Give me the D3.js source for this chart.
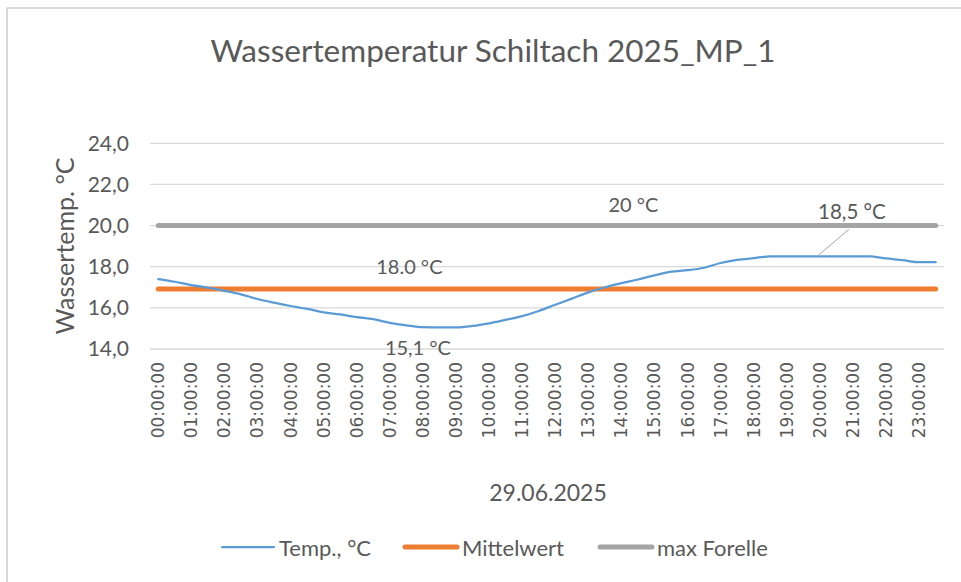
<!DOCTYPE html>
<html>
<head>
<meta charset="utf-8">
<script src="https://cdn.jsdelivr.net/npm/d3@7"></script>
<style>
  body { margin: 0; background: #fff; }
  text { font-family: Lato, "Open Sans", sans-serif; fill: #595959; }
</style>
</head>
<body>
<script>
// half-hourly readings, 29.06.2025
const times = d3.range(48).map(i =>
    d3.format("02")(Math.floor(i / 2)) + ":" + (i % 2 ? "30" : "00") + ":00");
const temps = [
    17.40, 17.27, 17.11, 16.98, 16.83, 16.66, 16.43, 16.25,
    16.09, 15.95, 15.78, 15.68, 15.55, 15.45, 15.27, 15.15,
    15.06, 15.05, 15.05, 15.12, 15.25, 15.42, 15.60, 15.85,
    16.15, 16.45, 16.75, 17.00, 17.20, 17.38, 17.58, 17.76,
    17.83, 17.95, 18.18, 18.33, 18.42, 18.50, 18.50, 18.50,
    18.50, 18.50, 18.50, 18.50, 18.40, 18.32, 18.22, 18.22
];
const mittelwert = 16.92;
const maxForelle = 20;
const yTicks = [14, 16, 18, 20, 22, 24];
const seriesNames = ["Temp., °C", "Mittelwert", "max Forelle"];
const seriesColors = ["#5B9BD5", "#ED7D31", "#A5A5A5"];
const seriesWidths = [2.25, 5, 5];

const width = 961, height = 582;
const plot = { left: 150, right: 944, top: 143.3, bottom: 349 };

const svg = d3.select("body").append("svg")
    .attr("width", width)
    .attr("height", height);

// chart frame (only the top and left edges are visible)
svg.append("line").attr("x1", 7).attr("x2", width).attr("y1", 8).attr("y2", 8)
    .attr("stroke", "#D9D9D9").attr("stroke-width", 2);
svg.append("line").attr("x1", 7).attr("x2", 7).attr("y1", 8).attr("y2", height)
    .attr("stroke", "#D9D9D9").attr("stroke-width", 2);

const x = d3.scaleBand()
    .domain(times)
    .range([plot.left, plot.right]);
const y = d3.scaleLinear()
    .domain([14, 24])
    .range([plot.bottom, plot.top]);
const cx = t => x(t) + x.bandwidth() / 2;

// gridlines
svg.append("g").selectAll("line")
    .data(yTicks)
    .enter().append("line")
    .attr("x1", plot.left).attr("x2", plot.right)
    .attr("y1", d => y(d)).attr("y2", d => y(d))
    .attr("stroke", "#D9D9D9").attr("stroke-width", 1.3);

// y axis labels
const yAxis = svg.append("g")
    .attr("transform", `translate(${plot.left - 21},0)`)
    .call(d3.axisLeft(y).tickValues(yTicks).tickSize(0).tickFormat(d => d3.format(".1f")(d).replace(".", ",")));
yAxis.select(".domain").remove();
yAxis.selectAll("text")
    .attr("x", 0)
    .style("font-size", "21px")
    .style("font-family", "Lato, sans-serif")
    .attr("fill", "#595959");

// x axis labels, every full hour
const xAxis = svg.append("g")
    .attr("transform", `translate(0,${plot.bottom})`)
    .call(d3.axisBottom(x).tickValues(times.filter((t, i) => i % 2 === 0)).tickSize(0));
xAxis.select(".domain").remove();
xAxis.selectAll("text")
    .attr("transform", "rotate(-90)")
    .attr("text-anchor", "end")
    .attr("x", -13)
    .attr("y", 0)
    .attr("dy", "0.35em")
    .style("font-size", "17px")
    .style("font-family", "'DejaVu Sans', sans-serif")
    .attr("fill", "#666");

// series
const line = d3.line()
    .x((d, i) => cx(times[i]))
    .y(d => y(d))
    .curve(d3.curveMonotoneX);

const lineData = [
    temps,
    times.map(() => mittelwert),
    times.map(() => maxForelle)
];

svg.append("g").selectAll("path")
    .data([lineData[2], lineData[1], lineData[0]])
    .enter().append("path")
    .attr("d", line)
    .attr("fill", "none")
    .attr("stroke", (d, i) => seriesColors[2 - i])
    .attr("stroke-width", (d, i) => seriesWidths[2 - i])
    .attr("stroke-linecap", "round")
    .attr("stroke-linejoin", "round");

// data labels
const labels = [
    { text: "20 °C", t: times[28], v: maxForelle, dx: 12, dy: -22 },
    { text: "18.0 °C", t: times[15], v: mittelwert, dx: 3, dy: -23 },
    { text: "15,1 °C", t: times[16], v: 15.05, dx: -5, dy: 20 }
];
svg.append("g").selectAll("text")
    .data(labels)
    .enter().append("text")
    .attr("x", d => cx(d.t) + d.dx)
    .attr("y", d => y(d.v) + d.dy)
    .attr("text-anchor", "middle")
    .attr("dominant-baseline", "central")
    .style("font-size", "20px")
    .text(d => d.text);

// 18,5 label with leader line
const peakT = times[40];
svg.append("line")
    .attr("x1", cx(peakT) - 3).attr("y1", y(18.5))
    .attr("x2", cx(peakT) + 29).attr("y2", y(18.5) - 27)
    .attr("stroke", "#A6A6A6").attr("stroke-width", 1);
svg.append("text")
    .attr("x", cx(peakT) + 32)
    .attr("y", y(18.5) - 45)
    .attr("text-anchor", "middle")
    .attr("dominant-baseline", "central")
    .style("font-size", "20.5px")
    .text("18,5 °C");

// title
svg.append("text")
    .attr("x", 493)
    .attr("y", 50)
    .attr("text-anchor", "middle")
    .attr("dominant-baseline", "central")
    .style("font-size", "31.5px")
    .text("Wassertemperatur Schiltach 2025_MP_1");

// axis titles
svg.append("text")
    .attr("transform", "translate(64,246) rotate(-90)")
    .attr("text-anchor", "middle")
    .attr("dominant-baseline", "central")
    .style("font-size", "25px")
    .text("Wassertemp. °C");

svg.append("text")
    .attr("x", 548)
    .attr("y", 492)
    .attr("text-anchor", "middle")
    .attr("dominant-baseline", "central")
    .style("font-size", "23px")
    .text("29.06.2025");

// legend
const legendX = [222, 405, 600];
const legend = svg.append("g").selectAll("g")
    .data(seriesNames)
    .enter().append("g")
    .attr("transform", (d, i) => `translate(${legendX[i]},547)`);
legend.append("line")
    .attr("x1", 0).attr("x2", 52)
    .attr("stroke", (d, i) => seriesColors[i])
    .attr("stroke-width", (d, i) => seriesWidths[i])
    .attr("stroke-linecap", "round");
legend.append("text")
    .attr("x", 57)
    .attr("dominant-baseline", "central")
    .style("font-size", "22px")
    .text(d => d);
</script>
</body>
</html>
